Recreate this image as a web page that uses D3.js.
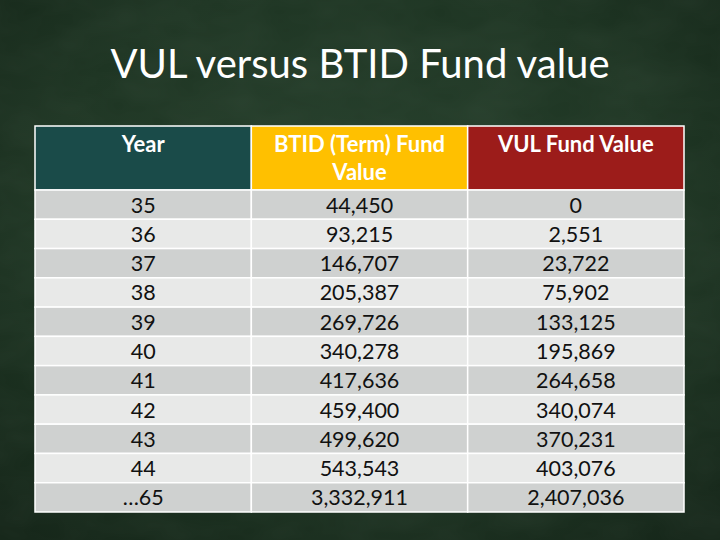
<!DOCTYPE html>
<html>
<head>
<meta charset="utf-8">
<script src="https://cdn.jsdelivr.net/npm/d3@7"></script>
<style>
  html, body { margin: 0; padding: 0; background: #1a2f1f; }
  svg { display: block; }
</style>
</head>
<body>
<div id="chart"></div>
<script>
// table contents
const title = "VUL versus BTID Fund value";
const headers = [["Year"], ["BTID (Term) Fund", "Value"], ["VUL Fund Value"]];
const years = ["35", "36", "37", "38", "39", "40", "41", "42", "43", "44", "\u202665"];
const btidValues = [44450, 93215, 146707, 205387, 269726, 340278, 417636, 459400, 499620, 543543, 3332911];
const vulValues = [0, 2551, 23722, 75902, 133125, 195869, 264658, 340074, 370231, 403076, 2407036];

const width = 720, height = 540;
const headerColors = ["#1a4b49", "#ffc000", "#9c1c1a"];
const rowColors = ["#cfd1d0", "#e8e9e8"];
const font = "Lato, sans-serif";

const svg = d3.select("#chart").append("svg")
    .attr("width", width)
    .attr("height", height);

// chalkboard background
const defs = svg.append("defs");
const grad = defs.append("radialGradient")
    .attr("id", "board")
    .attr("cx", "50%").attr("cy", "40%").attr("r", "75%");
grad.append("stop").attr("offset", "0%").attr("stop-color", "#243e2a");
grad.append("stop").attr("offset", "60%").attr("stop-color", "#1c3321");
grad.append("stop").attr("offset", "100%").attr("stop-color", "#122316");

const noise = defs.append("filter").attr("id", "chalk");
noise.append("feTurbulence")
    .attr("type", "fractalNoise")
    .attr("baseFrequency", "0.015 0.03")
    .attr("numOctaves", 3)
    .attr("seed", 4);
noise.append("feColorMatrix")
    .attr("values", "0 0 0 0 0.7  0 0 0 0 0.8  0 0 0 0 0.7  0 0 0 0.06 0");

svg.append("rect").attr("width", width).attr("height", height).attr("fill", "url(#board)");
svg.append("rect").attr("width", width).attr("height", height).attr("filter", "url(#chalk)");

// title
svg.append("text")
    .attr("x", width / 2)
    .attr("y", 78)
    .attr("text-anchor", "middle")
    .attr("fill", "#ffffff")
    .style("font-family", font)
    .style("font-size", "40px")
    .text(title);

// table layout
const fmt = d3.format(",");
const rows = years.map((y, i) => [y, fmt(btidValues[i]), fmt(vulValues[i])]);

const x = d3.scaleBand()
    .domain(d3.range(headers.length))
    .range([35, 684]);

const headerTop = 126, headerBottom = 190;
const y = d3.scaleBand()
    .domain(d3.range(rows.length))
    .range([headerBottom, 512]);

const table = svg.append("g");

// header cells
const head = table.append("g").selectAll("g")
    .data(headers)
    .join("g");

head.append("rect")
    .attr("x", (d, i) => x(i))
    .attr("y", headerTop)
    .attr("width", x.bandwidth())
    .attr("height", headerBottom - headerTop)
    .attr("fill", (d, i) => headerColors[i])
    .attr("stroke", "#ffffff")
    .attr("stroke-width", 1.5);

head.append("text")
    .attr("text-anchor", "middle")
    .attr("fill", "#ffffff")
    .style("font-family", font)
    .style("font-size", "22px")
    .style("font-weight", "bold")
    .selectAll("tspan")
    .data((d, i) => d.map(line => ({ line, i })))
    .join("tspan")
    .attr("x", d => x(d.i) + x.bandwidth() / 2)
    .attr("y", (d, j) => 152 + j * 28)
    .text(d => d.line);

// body cells
const body = table.append("g").selectAll("g")
    .data(rows)
    .join("g");

body.selectAll("rect")
    .data((d, r) => d.map((v, c) => ({ v, c, r })))
    .join("rect")
    .attr("x", d => x(d.c))
    .attr("y", d => y(d.r))
    .attr("width", x.bandwidth())
    .attr("height", y.bandwidth())
    .attr("fill", d => rowColors[d.r % 2])
    .attr("stroke", "#ffffff")
    .attr("stroke-width", 1.5);

body.selectAll("text")
    .data((d, r) => d.map((v, c) => ({ v, c, r })))
    .join("text")
    .attr("x", d => x(d.c) + x.bandwidth() / 2)
    .attr("y", d => y(d.r) + y.bandwidth() / 2)
    .attr("dy", "0.37em")
    .attr("text-anchor", "middle")
    .attr("fill", "#111111")
    .style("font-family", font)
    .style("font-size", "21.5px")
    .text(d => d.v);
</script>
</body>
</html>
